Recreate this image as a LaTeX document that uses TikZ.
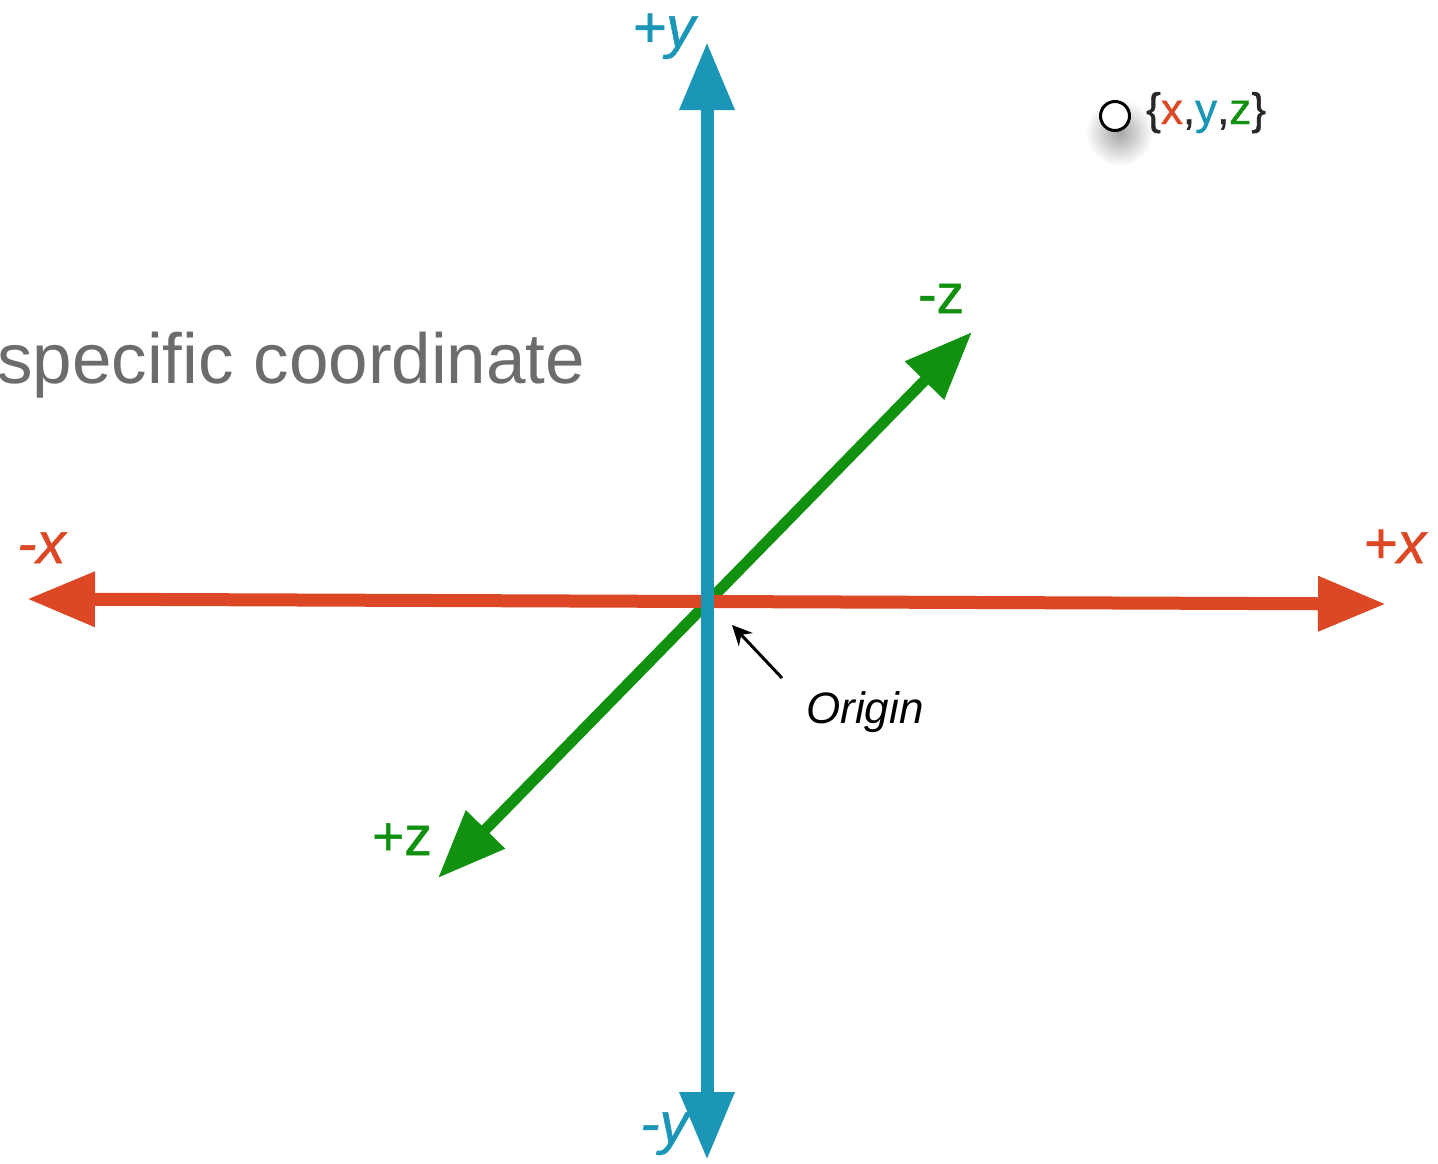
\documentclass[tikz,border=0pt]{standalone}
\usepackage{fontspec}
\setmainfont{Liberation Sans}
\newfontfamily\lblfont{Liberation Sans}[FakeBold=0.9, ItalicFeatures={FakeBold=0.9}]
\usetikzlibrary{arrows.meta,shadows.blur}
\definecolor{axblue}{RGB}{28,150,182}
\definecolor{axred}{RGB}{220,72,38}
\definecolor{axgreen}{RGB}{18,145,16}
\definecolor{txtgray}{RGB}{108,108,108}
\definecolor{brgray}{RGB}{40,40,40}
\tikzset{
  daxis/.style={line width=#1, {Triangle[length=68pt,width=52pt]}-{Triangle[length=68pt,width=52pt]}},
  lbl/.style={anchor=base west, inner sep=0pt, font=\lblfont\fontsize{58}{60}\selectfont\itshape},
  zlbl/.style={anchor=base west, inner sep=0pt, font=\lblfont\fontsize{55}{58}\selectfont, text=axgreen},
}
\begin{document}
\begin{tikzpicture}[x=1pt,y=-1pt]
\useasboundingbox (0,0) rectangle (1438,1164);
% axis end points
\coordinate (ztip) at (972,332);
\coordinate (zneg) at (438,878);
\coordinate (xl) at (27,599);
\coordinate (xr) at (1386,604);
\coordinate (yt) at (707,42);
\coordinate (yb) at (707,1160);
\coordinate (o) at (707,601);
% axes
\draw[daxis=11pt, axgreen] (zneg) -- (ztip);
\draw[daxis=13pt, axred] (xl) -- (xr);
\draw[daxis=13pt, axblue] (yb) -- (yt);
% labels
\node[lbl, text=axblue] (lpy) at (632,47) {+y};
\node[lbl, text=axblue] (lmy) at (640,1143) {-y};
\node[lbl, text=axred] (lmx) at (17,563) {-x};
\node[lbl, text=axred] (lpx) at (1363,563) {+x};
\node[zlbl] (lmz) at (918,313) {-z};
\node[zlbl] (lpz) at (372,855) {+z};
% gray text
\node[anchor=base west, inner sep=0pt, text=txtgray, font=\fontsize{71}{73}\selectfont] (spec) at (-3,383) {specific coordinate};
% origin
\node[anchor=base west, inner sep=0pt, font=\fontsize{44}{46}\selectfont\itshape] (orig) at (806,723) {Origin};
\coordinate (otail) at (782,678);
\coordinate (otip) at (732,625);
\draw[line width=3pt, -{Stealth[length=20pt,width=19pt]}] (otail) -- (otip);
% point
\node[circle, draw=black, line width=3pt, fill=white, minimum size=29pt, inner sep=0pt,
  blur shadow={shadow xshift=4pt, shadow yshift=-14pt, shadow scale=1.2, shadow blur radius=14pt, shadow blur steps=25, shadow opacity=35}] (pt) at (1115,116) {};
\node[anchor=base west, inner sep=0pt, font=\lblfont\fontsize{44}{46}\selectfont, text=brgray] (ptl) at (1146,124)
  {\{\textcolor{axred}{x},\textcolor{axblue}{y},\textcolor{axgreen}{z}\}};
\end{tikzpicture}
\end{document}
